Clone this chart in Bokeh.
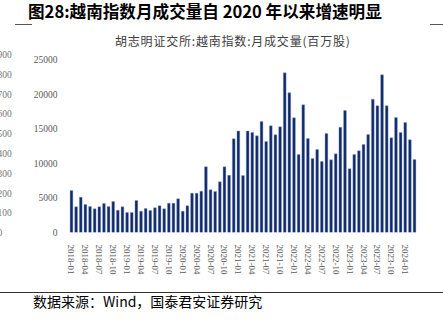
from bokeh.plotting import figure
from bokeh.models import Range1d, FixedTicker, Div
from bokeh.layouts import column, row
from bokeh.embed import file_html
from bokeh.resources import INLINE

# ---- data ----
volumes = [
    6090, 3720, 5120, 4060, 3770, 3430, 3720, 4200, 3770, 4490, 3240, 3720,
    2900, 2900, 4640, 3090, 3480, 3190, 3580, 3870, 3430, 4250, 4250, 4880,
    3090, 3870, 5700, 5700, 5990, 9520, 6180, 5940, 7350, 9520, 8300, 13580,
    14700, 8260, 14700, 14490, 14010, 16090, 13190, 15460, 14160, 15310, 23140, 20250,
    16620, 11300, 18500, 13620, 10720, 12030, 10290, 14350, 10530, 11400, 15260, 17680,
    9230, 11300, 11840, 12750, 14200, 19320, 18360, 22850, 18360, 13720, 16670, 14490,
    15940, 13430, 10580,
]
tick_labels = [
    "2018-01", "2018-04", "2018-07", "2018-10",
    "2019-01", "2019-04", "2019-07", "2019-10",
    "2020-01", "2020-04", "2020-07", "2020-10",
    "2021-01", "2021-04", "2021-07", "2021-10",
    "2022-01", "2022-04", "2022-07", "2022-10",
    "2023-01", "2023-04", "2023-07", "2023-10",
    "2024-01",
]
y_ticks = [0, 5000, 10000, 15000, 20000, 25000]
ghost_labels = ["900", "800", "700", "600", "500", "400", "300", "200", "100", "0"]

title_text = "图28:越南指数月成交量自 2020 年以来增速明显"
subtitle_text = "胡志明证交所:越南指数:月成交量(百万股)"
source_text = "数据来源：Wind，国泰君安证券研究"

idx = list(range(len(volumes)))
tick_pos = [i * 3 for i in range(len(tick_labels))]

CJK = "'Noto Sans CJK SC', sans-serif"
SERIF = "'Liberation Serif', serif"

# ---- header (title, dashes, subtitle) ----
header_html = f"""
<div style="position:relative;width:443px;height:48px;overflow:hidden;background:white;">
  <div style="position:absolute;left:28px;top:2px;font-family:{CJK};font-size:16.6px;font-weight:bold;
              line-height:19px;color:#000;white-space:nowrap;">{title_text}</div>
  <div style="position:absolute;left:15px;top:24px;width:17px;height:1.4px;background:#555;"></div>
  <div style="position:absolute;left:430px;top:24px;width:13px;height:1.4px;background:#555;"></div>
  <div style="position:absolute;left:115px;top:33px;font-family:{CJK};letter-spacing:0.8px;
              font-size:12px;line-height:16px;color:#404040;white-space:nowrap;">{subtitle_text}</div>
</div>
"""
header = Div(text=header_html, width=443, height=48, margin=0)

# ---- ghost (cut-off) axis labels at far left ----
ghost_spans = "".join(
    f'<div style="position:absolute;left:-2.5px;top:{1 + k * 19.8:.1f}px;font-family:{SERIF};'
    f'font-size:9.5px;line-height:12px;color:#777;white-space:nowrap;">{g}</div>'
    for k, g in enumerate(ghost_labels)
)
FIG_H = 242
ghost = Div(text=f'<div style="position:relative;width:12px;height:{FIG_H}px;overflow:hidden;">{ghost_spans}</div>',
            width=12, height=FIG_H, margin=0)

# ---- main figure ----
p = figure(width=431, height=FIG_H, output_backend="svg", toolbar_location=None,
           x_range=Range1d(-0.86, 75.94), y_range=Range1d(0, 25942),
           min_border_left=55, min_border_right=20, min_border_top=5, min_border_bottom=58)
p.outline_line_color = None
p.background_fill_color = "white"
p.border_fill_color = "white"
p.xgrid.grid_line_color = None
p.ygrid.grid_line_color = None

p.vbar(x=idx, top=volumes, width=0.6, bottom=0,
       fill_color="#0e2a6a", line_color="#8c9bc2", line_width=0.4)

p.yaxis.ticker = FixedTicker(ticks=y_ticks)
p.yaxis.axis_line_color = None
p.yaxis.major_tick_line_color = None
p.yaxis.minor_tick_line_color = None
p.yaxis.major_label_standoff = 4
p.yaxis.major_label_text_font = "Liberation Serif"
p.yaxis.major_label_text_font_size = "9.5px"
p.yaxis.major_label_text_color = "#595959"

p.xaxis.ticker = FixedTicker(ticks=tick_pos)
p.xaxis.major_label_overrides = {tp: lab for tp, lab in zip(tick_pos, tick_labels)}
p.xaxis.major_label_orientation = "vertical"
p.xaxis.axis_line_color = None
p.xaxis.major_tick_line_color = None
p.xaxis.minor_tick_line_color = None
p.xaxis.major_label_standoff = 6
p.xaxis.major_label_text_font = "Liberation Serif"
p.xaxis.major_label_text_font_size = "9px"
p.xaxis.major_label_text_color = "#595959"

# ---- footer (rule + source) ----
footer_html = f"""
<div style="position:relative;width:443px;height:32px;overflow:hidden;background:white;">
  <div style="position:absolute;left:0;top:1.5px;width:443px;height:1.4px;background:#333;"></div>
  <div style="position:absolute;left:33px;top:2px;font-family:{CJK};font-size:14px;line-height:18px;
              color:#000;white-space:nowrap;">{source_text}</div>
</div>
"""
footer = Div(text=footer_html, width=443, height=32, margin=0)

layout = column(header, row(ghost, p, spacing=0, margin=0), footer, spacing=0, margin=0)

open("out.html", "w").write(file_html(layout, INLINE))
